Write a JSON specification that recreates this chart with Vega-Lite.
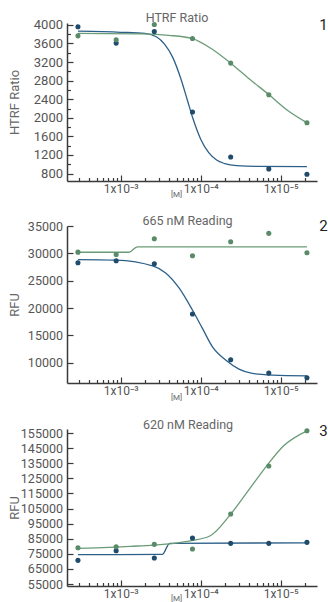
{
  "$schema": "https://vega.github.io/schema/vega-lite/v6.json",
  "padding": {"left": 8, "top": 11, "right": 12, "bottom": 0},
  "background": "white",
  "spacing": 16,
  "config": {
    "view": {"stroke": null},
    "font": "Roboto",
    "axis": {"domainColor": "#3a3a3a", "domainWidth": 1.5, "tickColor": "#3a3a3a", "tickWidth": 1.2, "labelColor": "#555555", "labelFont": "Roboto", "titleFont": "Roboto", "titleColor": "#666666", "titleFontWeight": "normal", "grid": false},
    "title": {"font": "Roboto", "fontSize": 12.5, "fontWeight": "normal", "color": "#666666"}
  },
  "datasets": {
    "htrf": [
      {"s": "A", "k": "pt", "u": 2.92, "v": 3960}, {"s": "A", "k": "pt", "u": 8.77, "v": 3607}, {"s": "A", "k": "pt", "u": 26.3, "v": 3856}, {"s": "A", "k": "pt", "u": 78.9, "v": 2125}, {"s": "A", "k": "pt", "u": 237, "v": 1158}, {"s": "A", "k": "pt", "u": 710, "v": 900}, {"s": "A", "k": "pt", "u": 2129, "v": 785},
      {"s": "B", "k": "pt", "u": 2.92, "v": 3764}, {"s": "B", "k": "pt", "u": 8.77, "v": 3678}, {"s": "B", "k": "pt", "u": 26.3, "v": 4007}, {"s": "B", "k": "pt", "u": 78.9, "v": 3706}, {"s": "B", "k": "pt", "u": 237, "v": 3177}, {"s": "B", "k": "pt", "u": 710, "v": 2496}, {"s": "B", "k": "pt", "u": 2129, "v": 1895},
      {"s": "A", "k": "fit", "u": 2.92, "v": 3865}, {"s": "A", "k": "fit", "u": 10, "v": 3840}, {"s": "A", "k": "fit", "u": 20, "v": 3815}, {"s": "A", "k": "fit", "u": 28.2, "v": 3740}, {"s": "A", "k": "fit", "u": 35.5, "v": 3580}, {"s": "A", "k": "fit", "u": 44.7, "v": 3300}, {"s": "A", "k": "fit", "u": 56.2, "v": 2850}, {"s": "A", "k": "fit", "u": 67.6, "v": 2400}, {"s": "A", "k": "fit", "u": 79.4, "v": 2000}, {"s": "A", "k": "fit", "u": 100, "v": 1540}, {"s": "A", "k": "fit", "u": 126, "v": 1250}, {"s": "A", "k": "fit", "u": 158, "v": 1090}, {"s": "A", "k": "fit", "u": 200, "v": 1015}, {"s": "A", "k": "fit", "u": 282, "v": 970}, {"s": "A", "k": "fit", "u": 501, "v": 953}, {"s": "A", "k": "fit", "u": 2129, "v": 950},
      {"s": "B", "k": "fit", "u": 2.92, "v": 3815}, {"s": "B", "k": "fit", "u": 18.5, "v": 3805}, {"s": "B", "k": "fit", "u": 40, "v": 3775}, {"s": "B", "k": "fit", "u": 78.9, "v": 3705}, {"s": "B", "k": "fit", "u": 135, "v": 3490}, {"s": "B", "k": "fit", "u": 237, "v": 3175}, {"s": "B", "k": "fit", "u": 402, "v": 2840}, {"s": "B", "k": "fit", "u": 710, "v": 2500}, {"s": "B", "k": "fit", "u": 1200, "v": 2170}, {"s": "B", "k": "fit", "u": 2129, "v": 1895}
    ],
    "r665": [
      {"s": "A", "k": "pt", "u": 2.92, "v": 28270}, {"s": "A", "k": "pt", "u": 8.77, "v": 28640}, {"s": "A", "k": "pt", "u": 26.3, "v": 28090}, {"s": "A", "k": "pt", "u": 78.9, "v": 18900}, {"s": "A", "k": "pt", "u": 237, "v": 10560}, {"s": "A", "k": "pt", "u": 710, "v": 8110}, {"s": "A", "k": "pt", "u": 2129, "v": 7250},
      {"s": "B", "k": "pt", "u": 2.92, "v": 30220}, {"s": "B", "k": "pt", "u": 8.77, "v": 29800}, {"s": "B", "k": "pt", "u": 26.3, "v": 32680}, {"s": "B", "k": "pt", "u": 78.9, "v": 29560}, {"s": "B", "k": "pt", "u": 237, "v": 32130}, {"s": "B", "k": "pt", "u": 710, "v": 33660}, {"s": "B", "k": "pt", "u": 2129, "v": 30110},
      {"s": "A", "k": "fit", "u": 2.92, "v": 28850}, {"s": "A", "k": "fit", "u": 8.66, "v": 28750}, {"s": "A", "k": "fit", "u": 25.6, "v": 27650}, {"s": "A", "k": "fit", "u": 36.5, "v": 26430}, {"s": "A", "k": "fit", "u": 53.6, "v": 23680}, {"s": "A", "k": "fit", "u": 78.5, "v": 19690}, {"s": "A", "k": "fit", "u": 104.7, "v": 16330}, {"s": "A", "k": "fit", "u": 139.6, "v": 12950}, {"s": "A", "k": "fit", "u": 205, "v": 10500}, {"s": "A", "k": "fit", "u": 301, "v": 8850}, {"s": "A", "k": "fit", "u": 442, "v": 8050}, {"s": "A", "k": "fit", "u": 785, "v": 7740}, {"s": "A", "k": "fit", "u": 2129, "v": 7610},
      {"s": "B", "k": "fit", "u": 2.92, "v": 30200}, {"s": "B", "k": "fit", "u": 12.7, "v": 30200}, {"s": "B", "k": "fit", "u": 16.1, "v": 31200}, {"s": "B", "k": "fit", "u": 2129, "v": 31200}
    ],
    "r620": [
      {"s": "A", "k": "pt", "u": 2.92, "v": 70700}, {"s": "A", "k": "pt", "u": 8.77, "v": 77050}, {"s": "A", "k": "pt", "u": 26.3, "v": 72220}, {"s": "A", "k": "pt", "u": 78.9, "v": 85460}, {"s": "A", "k": "pt", "u": 237, "v": 81950}, {"s": "A", "k": "pt", "u": 710, "v": 81950}, {"s": "A", "k": "pt", "u": 2129, "v": 82600},
      {"s": "B", "k": "pt", "u": 2.92, "v": 79040}, {"s": "B", "k": "pt", "u": 8.77, "v": 79700}, {"s": "B", "k": "pt", "u": 26.3, "v": 81290}, {"s": "B", "k": "pt", "u": 78.9, "v": 78180}, {"s": "B", "k": "pt", "u": 237, "v": 101360}, {"s": "B", "k": "pt", "u": 710, "v": 133150}, {"s": "B", "k": "pt", "u": 2129, "v": 156500},
      {"s": "A", "k": "fit", "u": 2.92, "v": 74500}, {"s": "A", "k": "fit", "u": 33, "v": 74600}, {"s": "A", "k": "fit", "u": 41, "v": 82000}, {"s": "A", "k": "fit", "u": 2129, "v": 82300},
      {"s": "B", "k": "fit", "u": 2.92, "v": 78640}, {"s": "B", "k": "fit", "u": 5.06, "v": 79000}, {"s": "B", "k": "fit", "u": 13.2, "v": 80000}, {"s": "B", "k": "fit", "u": 25.9, "v": 80800}, {"s": "B", "k": "fit", "u": 46, "v": 81950}, {"s": "B", "k": "fit", "u": 76.3, "v": 83700}, {"s": "B", "k": "fit", "u": 131.8, "v": 87000}, {"s": "B", "k": "fit", "u": 228, "v": 100200}, {"s": "B", "k": "fit", "u": 379, "v": 115700}, {"s": "B", "k": "fit", "u": 661, "v": 133000}, {"s": "B", "k": "fit", "u": 1090, "v": 146600}, {"s": "B", "k": "fit", "u": 2129, "v": 156500}
    ]
  },
  "vconcat": [
    {
      "width": 250, "height": 158,
      "title": {"text": "HTRF Ratio", "dx": -15, "offset": -5.7},
      "data": {"name": "htrf"},
      "encoding": {
        "x": {"field": "u", "type": "quantitative", "scale": {"type": "log", "domain": [2.13, 2844], "nice": false}, "axis": {"title": "[M]", "titleFontSize": 8, "titleX": 109, "titleY": 13, "titleBaseline": "middle", "titleAlign": "center", "values": [3,4,5,6,7,8,9,10,20,30,40,50,60,70,80,90,100,200,300,400,500,600,700,800,900,1000,2000], "labelExpr": "datum.value==10?'1x10⁻³':datum.value==100?'1x10⁻⁴':datum.value==1000?'1x10⁻⁵':''", "labelOverlap": false, "labelFlush": false, "labelFontSize": 12, "labelPadding": 8.5, "tickSize": -6, "tickDash": {"condition": {"test": "datum.value==10||datum.value==100||datum.value==1000", "value": [8, 0]}, "value": [3.5, 20]}}},
        "y": {"field": "v", "type": "quantitative", "scale": {"domain": [640, 4040], "nice": false, "zero": false}, "axis": {"title": "HTRF Ratio", "titleFontSize": 13, "titleX": -53, "titleY": 79, "titleBaseline": "middle", "titleAlign": "center", "values": [800,1000,1200,1400,1600,1800,2000,2200,2400,2600,2800,3000,3200,3400,3600,3800,4000], "format": "d", "labelExpr": "datum.value % 400 == 0 ? datum.label : ''", "labelOverlap": false, "labelFontSize": 13, "labelPadding": 10.5, "tickSize": -6, "tickDash": {"condition": {"test": "datum.value % 400 == 0", "value": [8, 0]}, "value": [3.5, 20]}}}
      },
      "layer": [
        {"transform": [{"filter": "datum.k=='fit'"}], "mark": {"type": "line", "interpolate": "monotone", "strokeWidth": 1.3}, "encoding": {"color": {"field": "s", "type": "nominal", "scale": {"domain": ["A", "B"], "range": ["#2d6089", "#6b9c77"]}, "legend": null}}},
        {"transform": [{"filter": "datum.k=='pt'"}], "mark": {"type": "circle", "size": 26, "opacity": 1}, "encoding": {"color": {"field": "s", "type": "nominal", "scale": {"domain": ["A", "B"], "range": ["#1f4b6c", "#5a8b68"]}, "legend": null}}},
        {"transform": [{"filter": "datum.k=='pt' && datum.s=='B' && datum.u==2129"}], "mark": {"type": "text", "fontSize": 15, "fill": "#222222", "font": "Roboto", "baseline": "middle", "align": "center", "dx": 16.5, "text": "1"},
         "encoding": {
           "y": {"datum": 3990, "type": "quantitative", "scale": {"domain": [640, 4040], "nice": false, "zero": false}, "axis": {"title": "HTRF Ratio", "titleFontSize": 13, "titleX": -53, "titleY": 79, "titleBaseline": "middle", "titleAlign": "center", "values": [800,1000,1200,1400,1600,1800,2000,2200,2400,2600,2800,3000,3200,3400,3600,3800,4000], "format": "d", "labelExpr": "datum.value % 400 == 0 ? datum.label : ''", "labelOverlap": false, "labelFontSize": 13, "labelPadding": 10.5, "tickSize": -6, "tickDash": {"condition": {"test": "datum.value % 400 == 0", "value": [8, 0]}, "value": [3.5, 20]}}}
         }}
      ],
      "resolve": {"scale": {"color": "independent"}}
    },
    {
      "width": 250, "height": 157,
      "title": {"text": "665 nM Reading", "dx": -4.5, "offset": -8},
      "data": {"name": "r665"},
      "encoding": {
        "x": {"field": "u", "type": "quantitative", "scale": {"type": "log", "domain": [2.13, 2844], "nice": false}, "axis": {"title": "[M]", "titleFontSize": 8, "titleX": 109, "titleY": 14.5, "titleBaseline": "middle", "titleAlign": "center", "values": [3,4,5,6,7,8,9,10,20,30,40,50,60,70,80,90,100,200,300,400,500,600,700,800,900,1000,2000], "labelExpr": "datum.value==10?'1x10⁻³':datum.value==100?'1x10⁻⁴':datum.value==1000?'1x10⁻⁵':''", "labelOverlap": false, "labelFlush": false, "labelFontSize": 12, "labelPadding": 8.5, "tickSize": -6, "tickDash": {"condition": {"test": "datum.value==10||datum.value==100||datum.value==1000", "value": [8, 0]}, "value": [3.5, 20]}}},
        "y": {"field": "v", "type": "quantitative", "scale": {"domain": [6300, 35000], "nice": false, "zero": false}, "axis": {"title": "RFU", "titleFontSize": 13, "titleX": -53, "titleY": 78.5, "titleBaseline": "middle", "titleAlign": "center", "values": [10000,15000,20000,25000,30000,35000], "format": "d", "labelOverlap": false, "labelFontSize": 12.5, "labelPadding": 10.5, "tickSize": -6}}
      },
      "layer": [
        {"transform": [{"filter": "datum.k=='fit'"}], "mark": {"type": "line", "interpolate": "monotone", "strokeWidth": 1.3}, "encoding": {"color": {"field": "s", "type": "nominal", "scale": {"domain": ["A", "B"], "range": ["#2d6089", "#6b9c77"]}, "legend": null}}},
        {"transform": [{"filter": "datum.k=='pt'"}], "mark": {"type": "circle", "size": 26, "opacity": 1}, "encoding": {"color": {"field": "s", "type": "nominal", "scale": {"domain": ["A", "B"], "range": ["#1f4b6c", "#5a8b68"]}, "legend": null}}},
        {"transform": [{"filter": "datum.k=='pt' && datum.s=='B' && datum.u==2129"}], "mark": {"type": "text", "fontSize": 15, "fill": "#222222", "font": "Roboto", "baseline": "middle", "align": "center", "dx": 16.5, "text": "2"},
         "encoding": {
           "y": {"datum": 35000, "type": "quantitative", "scale": {"domain": [6300, 35000], "nice": false, "zero": false}, "axis": {"title": "RFU", "titleFontSize": 13, "titleX": -53, "titleY": 78.5, "titleBaseline": "middle", "titleAlign": "center", "values": [10000,15000,20000,25000,30000,35000], "format": "d", "labelOverlap": false, "labelFontSize": 12.5, "labelPadding": 10.5, "tickSize": -6}}
         }}
      ],
      "resolve": {"scale": {"color": "independent"}}
    },
    {
      "width": 250, "height": 157,
      "title": {"text": "620 nM Reading", "dx": -4, "offset": -7.5},
      "data": {"name": "r620"},
      "encoding": {
        "x": {"field": "u", "type": "quantitative", "scale": {"type": "log", "domain": [2.13, 2844], "nice": false}, "axis": {"title": "[M]", "titleFontSize": 8, "titleX": 109, "titleY": 12, "titleBaseline": "middle", "titleAlign": "center", "values": [3,4,5,6,7,8,9,10,20,30,40,50,60,70,80,90,100,200,300,400,500,600,700,800,900,1000,2000], "labelExpr": "datum.value==10?'1x10⁻³':datum.value==100?'1x10⁻⁴':datum.value==1000?'1x10⁻⁵':''", "labelOverlap": false, "labelFlush": false, "labelFontSize": 12, "labelPadding": 8.5, "tickSize": -6, "tickDash": {"condition": {"test": "datum.value==10||datum.value==100||datum.value==1000", "value": [8, 0]}, "value": [3.5, 20]}}},
        "y": {"field": "v", "type": "quantitative", "scale": {"domain": [53700, 157700], "nice": false, "zero": false}, "axis": {"title": "RFU", "titleFontSize": 13, "titleX": -53, "titleY": 78.5, "titleBaseline": "middle", "titleAlign": "center", "values": [55000,65000,75000,85000,95000,105000,115000,125000,135000,145000,155000], "format": "d", "labelOverlap": false, "labelFontSize": 12.5, "labelPadding": 10.5, "tickSize": -6}}
      },
      "layer": [
        {"transform": [{"filter": "datum.k=='fit'"}], "mark": {"type": "line", "interpolate": "monotone", "strokeWidth": 1.3}, "encoding": {"color": {"field": "s", "type": "nominal", "scale": {"domain": ["A", "B"], "range": ["#2d6089", "#6b9c77"]}, "legend": null}}},
        {"transform": [{"filter": "datum.k=='pt'"}], "mark": {"type": "circle", "size": 26, "opacity": 1}, "encoding": {"color": {"field": "s", "type": "nominal", "scale": {"domain": ["A", "B"], "range": ["#1f4b6c", "#5a8b68"]}, "legend": null}}},
        {"transform": [{"filter": "datum.k=='pt' && datum.s=='B' && datum.u==2129"}], "mark": {"type": "text", "fontSize": 15, "fill": "#222222", "font": "Roboto", "baseline": "middle", "align": "center", "dx": 16.5, "text": "3"},
         "encoding": {
           "y": {"datum": 156500, "type": "quantitative", "scale": {"domain": [53700, 157700], "nice": false, "zero": false}, "axis": {"title": "RFU", "titleFontSize": 13, "titleX": -53, "titleY": 78.5, "titleBaseline": "middle", "titleAlign": "center", "values": [55000,65000,75000,85000,95000,105000,115000,125000,135000,145000,155000], "format": "d", "labelOverlap": false, "labelFontSize": 12.5, "labelPadding": 10.5, "tickSize": -6}}
         }}
      ],
      "resolve": {"scale": {"color": "independent"}}
    }
  ]
}
